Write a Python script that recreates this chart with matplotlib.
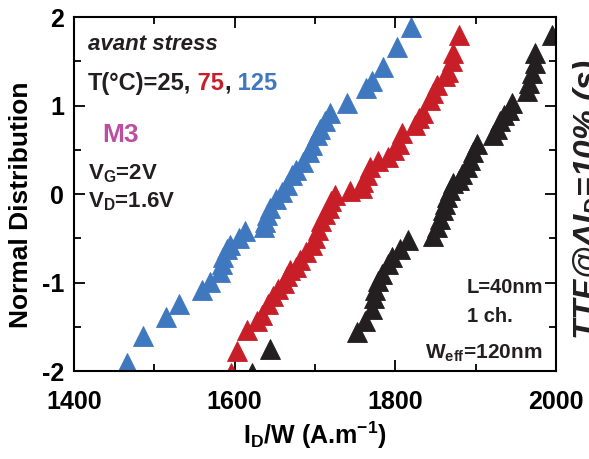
import matplotlib
matplotlib.use("Agg")
import matplotlib.pyplot as plt
from matplotlib.ticker import MultipleLocator


BLUE = "#3f78bf"
RED = "#c81e28"
BLACK = "#231f20"
MAGENTA = "#bb4ea0"

# T = 125 C
x_125 = [1466, 1486, 1515, 1531, 1559, 1569, 1582, 1584, 1586, 1590, 1594, 1605,
         1613, 1636, 1638, 1640, 1644, 1652, 1659, 1665, 1671, 1677, 1685, 1692,
         1696, 1702, 1706, 1712, 1719, 1740, 1764, 1771, 1785, 1802, 1820]
y_125 = [-1.91, -1.60, -1.39, -1.24, -1.09, -0.99, -0.88, -0.79, -0.71, -0.62, -0.58, -0.50,
         -0.42, -0.37, -0.32, -0.24, -0.16, -0.06, 0.02, 0.10, 0.21, 0.27, 0.36, 0.48,
         0.55, 0.67, 0.74, 0.82, 0.91, 1.03, 1.20, 1.28, 1.44, 1.66, 1.89]

# T = 75 C
x_75 = [1596, 1603, 1615, 1628, 1634, 1642, 1648, 1654, 1661, 1665, 1669, 1677,
        1681, 1689, 1696, 1700, 1704, 1708, 1713, 1717, 1720, 1725, 1744, 1758,
        1760, 1765, 1769, 1779, 1791, 1798, 1804, 1808, 1825, 1829, 1835, 1843,
        1847, 1852, 1862, 1866, 1870, 1872, 1879]
y_75 = [-2.02, -1.77, -1.54, -1.43, -1.37, -1.24, -1.15, -1.07, -1.01, -0.93, -0.86, -0.82,
        -0.75, -0.66, -0.58, -0.50, -0.41, -0.31, -0.23, -0.16, -0.08, -0.01, 0.03, 0.07,
        0.14, 0.21, 0.30, 0.37, 0.42, 0.50, 0.57, 0.69, 0.78, 0.86, 0.92, 1.06,
        1.14, 1.23, 1.33, 1.38, 1.50, 1.59, 1.80]

# T = 25 C
x_25 = [1621, 1644, 1752, 1762, 1771, 1773, 1775, 1779, 1783, 1791, 1796, 1806,
        1816, 1847, 1852, 1856, 1860, 1862, 1864, 1868, 1872, 1879, 1883, 1889,
        1893, 1897, 1902, 1922, 1926, 1930, 1935, 1941, 1945, 1964, 1966, 1970,
        1974, 1974, 1995]
y_25 = [-2.02, -1.75, -1.56, -1.43, -1.30, -1.18, -1.09, -0.98, -0.90, -0.79, -0.71, -0.62,
        -0.52, -0.47, -0.37, -0.28, -0.18, -0.11, -0.03, 0.04, 0.12, 0.16, 0.23, 0.31,
        0.38, 0.48, 0.57, 0.67, 0.74, 0.82, 0.89, 0.95, 1.03, 1.16, 1.25, 1.37,
        1.48, 1.59, 1.80]


def colored_text(ax, x, y, parts, **kw):
    # draw pieces side by side, each in its own colour
    renderer = ax.figure.canvas.get_renderer()
    inv = ax.transAxes.inverted()
    for text, color in parts:
        t = ax.text(x, y, text, color=color, transform=ax.transAxes, **kw)
        bb = t.get_window_extent(renderer)
        x = inv.transform((bb.x1, bb.y0))[0]


def main():
    plt.rcParams["font.family"] = ["Liberation Sans", "DejaVu Sans"]
    plt.rcParams["font.weight"] = "bold"
    plt.rcParams["axes.labelweight"] = "bold"
    plt.rcParams["axes.unicode_minus"] = False

    fig = plt.figure(figsize=(5.89, 4.59), dpi=100)
    ax = fig.add_axes([0.1256, 0.1917, 0.8183, 0.7712])

    for xs, ys, color in ((x_25, y_25, BLACK), (x_75, y_75, RED), (x_125, y_125, BLUE)):
        ax.plot(xs, ys, ls="none", marker="^", ms=15, mew=0.6, color=color)

    ax.set_xlim(1400, 2000)
    ax.set_ylim(-2, 2)
    ax.set_xticks([1400, 1600, 1800, 2000])
    ax.set_yticks([-2, -1, 0, 1, 2])
    ax.xaxis.set_minor_locator(MultipleLocator(100))
    ax.yaxis.set_minor_locator(MultipleLocator(0.5))
    ax.tick_params(which="both", direction="in", top=True, right=True,
                   labelsize=18, width=1.3)
    ax.tick_params(which="major", length=8)
    ax.tick_params(which="minor", length=5)
    ax.tick_params(axis="x", which="both", pad=14)
    ax.tick_params(axis="y", which="both", pad=7)
    for s in ax.spines.values():
        s.set_linewidth(1.5)

    ax.set_xlabel(r"I$_\mathregular{D}$/W (A.m$^\mathregular{-1}$)", fontsize=18, labelpad=4)
    ax.set_ylabel("Normal Distribution", fontsize=19)
    ax.yaxis.set_label_coords(-0.085, 0.47)

    ax.text(0.029, 0.907, "avant stress", transform=ax.transAxes, fontsize=16,
            style="italic", color=BLACK)
    colored_text(ax, 0.029, 0.794,
                 [("T(°C)=25,", BLACK), (" 75", RED), (",", BLACK), (" 125", BLUE)],
                 fontsize=17)
    ax.text(0.058, 0.647, "M3", transform=ax.transAxes, fontsize=19, color=MAGENTA)
    ax.text(0.029, 0.540, r"V$_\mathregular{G}$=2V", transform=ax.transAxes,
            fontsize=16, color=BLACK)
    ax.text(0.029, 0.463, r"V$_\mathregular{D}$=1.6V", transform=ax.transAxes,
            fontsize=16, color=BLACK)
    ax.text(0.815, 0.220, "L=40nm", transform=ax.transAxes, fontsize=14.5, color=BLACK)
    ax.text(0.815, 0.138, "1 ch.", transform=ax.transAxes, fontsize=14.5, color=BLACK)
    ax.text(0.728, 0.037, r"W$_\mathregular{eff}$=120nm", transform=ax.transAxes,
            fontsize=15, color=BLACK)

    # right-hand label, partly outside the picture as in the original
    fig.text(0.969, 0.565, r"TTF@ΔI$_\mathregular{D}$=10% (s)", rotation=90,
             ha="left", va="center", fontsize=24, style="italic", color=BLACK)

    fig.savefig("out.png", dpi=100)


if __name__ == "__main__":
    main()
